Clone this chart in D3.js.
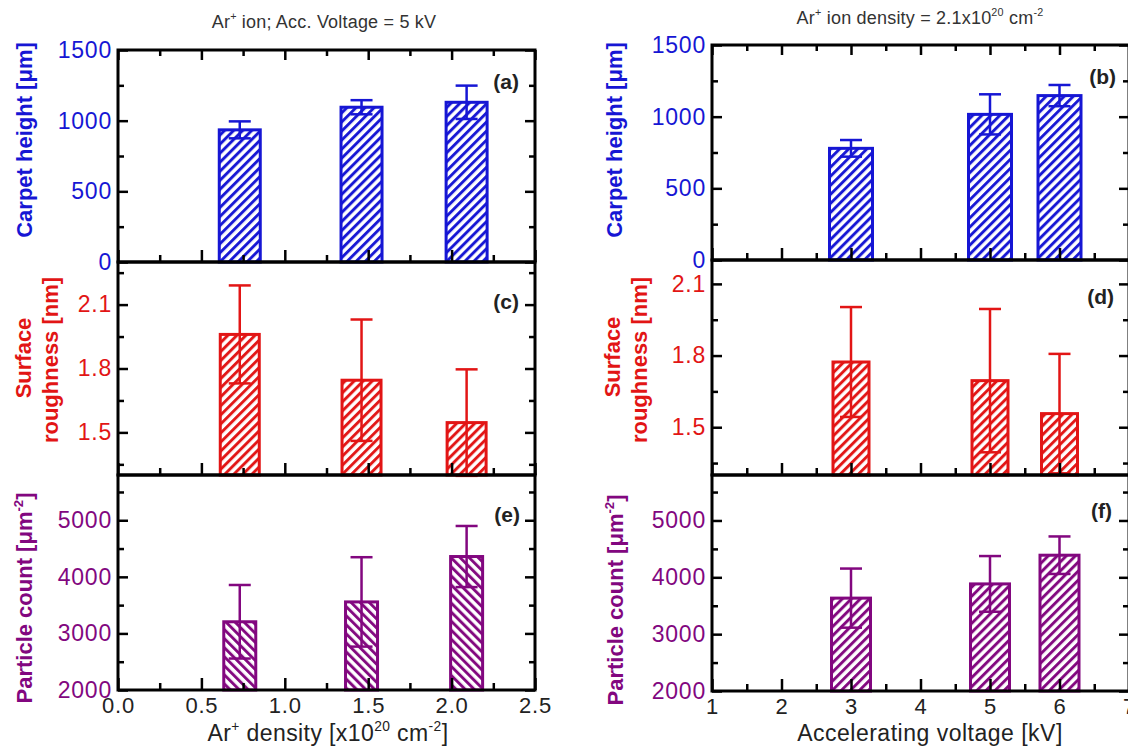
<!DOCTYPE html>
<html>
<head>
<meta charset="utf-8">
<title></title>
<script src="https://cdn.jsdelivr.net/npm/d3@7/dist/d3.min.js"></script>
<style>
body{margin:0;background:#fff;}
text{font-family:"Liberation Sans",Arial,sans-serif;}
</style>
</head>
<body>
<script>
// ---- data ----
var densityX = [0.73, 1.46, 2.09];      // x10^20 cm^-2
var voltageX = [3, 5, 6];               // kV

var heightDens = [935, 1095, 1130];   var heightDensErr = [60, 50, 118];     // (a)
var roughDens  = [1.96, 1.745, 1.546]; var roughDensErr  = [0.23, 0.285, 0.25]; // (c)
var countDens  = [3206, 3557, 4359];  var countDensErr  = [650, 790, 540];   // (e)

var heightVolt = [779, 1016, 1147];   var heightVoltErr = [58, 140, 74];     // (b)
var roughVolt  = [1.773, 1.695, 1.557]; var roughVoltErr = [0.23, 0.30, 0.25]; // (d)
var countVolt  = [3634, 3884, 4389];  var countVoltErr  = [520, 490, 330];   // (f)

// tick labels
var densTicks = [0, 0.5, 1.0, 1.5, 2.0, 2.5];
var densMinor = [0.25, 0.75, 1.25, 1.75, 2.25];
var voltTicks = [1, 2, 3, 4, 5, 6, 7];
var voltMinor = [1.5, 2.5, 3.5, 4.5, 5.5, 6.5];
var heightTicks = [0, 500, 1000, 1500];
var heightMinor = [250, 750, 1250];
var roughTicks = [1.5, 1.8, 2.1];
var roughMinor = [1.35, 1.65, 1.95, 2.25];
var countTicks = [2000, 3000, 4000, 5000];
var countMinor = [2500, 3500, 4500, 5500];

var blue = "#1616d4", red = "#e21515", purple = "#82077f";

var svg = d3.select("body").append("svg")
    .attr("width", 1128)
    .attr("height", 749);

var defs = svg.append("defs");
function hatch(id, color, angle) {
  var s = 6.4;
  var p = defs.append("pattern")
      .attr("id", id)
      .attr("patternUnits", "userSpaceOnUse")
      .attr("width", s).attr("height", s)
      .attr("patternTransform", "rotate(" + angle + ")");
  p.append("rect").attr("width", s).attr("height", s).attr("fill", "#fff");
  p.append("line").attr("x1", 1.5).attr("x2", 1.5).attr("y1", 0).attr("y2", s)
      .attr("stroke", color).attr("stroke-width", 2.9);
}
hatch("hBlue", blue, 45);
hatch("hRed", red, 45);
hatch("hPurple", purple, 45);
hatch("hPurpleBack", purple, -45);

var xDens = d3.scaleLinear().domain([0, 2.5]).range([118, 535]);
var xVolt = d3.scaleLinear().domain([1, 7]).range([712, 1129]);

function styleAxis(g, color, size) {
  g.select(".domain").remove();
  g.selectAll(".tick line").attr("stroke", "#000").attr("stroke-width", 2.5);
  g.attr("font-size", size || 23).attr("font-family", "'Liberation Sans', Arial, sans-serif")
   .attr("letter-spacing", "0.8px");
  g.selectAll(".tick text").attr("fill", color);
}

function panel(o) {
  var x = o.x, x0 = x.range()[0], x1 = x.range()[1];
  var y = d3.scaleLinear().domain(o.domain).range([o.y1, o.y0]);
  var g = svg.append("g");

  // bars
  g.selectAll("rect.bar").data(o.vals).enter().append("rect")
    .attr("x", function(d, i){ return x(o.xs[i]) - o.bw / 2; })
    .attr("y", function(d){ return y(d); })
    .attr("width", o.bw)
    .attr("height", function(d){ return o.y1 - y(d); })
    .attr("fill", "url(#" + o.pat + ")")
    .attr("stroke", o.color)
    .attr("stroke-width", 3);

  // error bars
  var eb = g.selectAll("g.err").data(o.vals).enter().append("g")
    .attr("stroke", o.color).attr("stroke-width", 2.5);
  eb.append("line")
    .attr("x1", function(d, i){ return x(o.xs[i]); })
    .attr("x2", function(d, i){ return x(o.xs[i]); })
    .attr("y1", function(d, i){ return y(d - o.err[i]); })
    .attr("y2", function(d, i){ return y(d + o.err[i]); });
  [1, -1].forEach(function(sgn){
    eb.append("line")
      .attr("x1", function(d, i){ return x(o.xs[i]) - 11; })
      .attr("x2", function(d, i){ return x(o.xs[i]) + 11; })
      .attr("y1", function(d, i){ return y(d + sgn * o.err[i]); })
      .attr("y2", function(d, i){ return y(d + sgn * o.err[i]); });
  });

  // y axes (left with labels, right ticks only)
  var inDom = function(v){ return v >= o.domain[0] && v <= o.domain[1]; };
  var yl = g.append("g").attr("transform", "translate(" + x0 + ",0)")
    .call(d3.axisLeft(y).tickValues(o.yTicks).tickSize(-10).tickPadding(6).tickFormat(o.yFmt));
  styleAxis(yl, o.color);
  yl.selectAll(".tick").filter(function(d){ return !inDom(d); }).select("line").remove();
  var ylm = g.append("g").attr("transform", "translate(" + x0 + ",0)")
    .call(d3.axisLeft(y).tickValues(o.yMinor.filter(inDom)).tickSize(-6).tickFormat(""));
  styleAxis(ylm, o.color);
  var yr = g.append("g").attr("transform", "translate(" + x1 + ",0)")
    .call(d3.axisRight(y).tickValues(o.yTicks.filter(inDom)).tickSize(-10).tickFormat(""));
  styleAxis(yr, o.color);
  var yrm = g.append("g").attr("transform", "translate(" + x1 + ",0)")
    .call(d3.axisRight(y).tickValues(o.yMinor.filter(inDom)).tickSize(-6).tickFormat(""));
  styleAxis(yrm, o.color);

  // x axes
  var xb = g.append("g").attr("transform", "translate(0," + o.y1 + ")")
    .call(d3.axisBottom(x).tickValues(o.xTicks).tickSize(-12).tickPadding(7)
      .tickFormat(o.bottom ? o.xFmt : ""));
  styleAxis(xb, "#222", 22);
  var xbm = g.append("g").attr("transform", "translate(0," + o.y1 + ")")
    .call(d3.axisBottom(x).tickValues(o.xMinor).tickSize(-7).tickFormat(""));
  styleAxis(xbm, "#222");
  if (o.top) {
    var xt = g.append("g").attr("transform", "translate(0," + o.y0 + ")")
      .call(d3.axisTop(x).tickValues(o.xTicks).tickSize(-10).tickFormat(""));
    styleAxis(xt, "#222");
    var xtm = g.append("g").attr("transform", "translate(0," + o.y0 + ")")
      .call(d3.axisTop(x).tickValues(o.xMinor).tickSize(-6).tickFormat(""));
    styleAxis(xtm, "#222");
  }

  // frame
  g.append("rect")
    .attr("x", x0).attr("y", o.y0)
    .attr("width", x1 - x0).attr("height", o.y1 - o.y0)
    .attr("fill", "none").attr("stroke", "#000").attr("stroke-width", 3);

  // panel label
  g.append("text")
    .attr("x", o.lx).attr("y", o.ly)
    .attr("text-anchor", "end").attr("dy", "0.35em")
    .attr("font-size", 21).attr("font-weight", "bold").attr("fill", "#222")
    .text(o.label);
}

var fmtDens = d3.format(".1f"), fmtInt = d3.format("d");

// left column: vs Ar+ density
panel({x: xDens, xs: densityX, vals: heightDens, err: heightDensErr, domain: [0, 1500],
  y0: 50, y1: 262, color: blue, pat: "hBlue", bw: 41, yTicks: heightTicks, yMinor: heightMinor,
  yFmt: fmtInt, xTicks: densTicks, xMinor: densMinor, top: true, label: "(a)", lx: 519, ly: 82});
panel({x: xDens, xs: densityX, vals: roughDens, err: roughDensErr, domain: [1.3, 2.3],
  y0: 262, y1: 475, color: red, pat: "hRed", bw: 39, yTicks: roughTicks, yMinor: roughMinor,
  yFmt: fmtDens, xTicks: densTicks, xMinor: densMinor, label: "(c)", lx: 519, ly: 302});
panel({x: xDens, xs: densityX, vals: countDens, err: countDensErr, domain: [2000, 5800],
  y0: 475, y1: 690, color: purple, pat: "hPurpleBack", bw: 32, yTicks: countTicks, yMinor: countMinor,
  yFmt: fmtInt, xTicks: densTicks, xMinor: densMinor, bottom: true, xFmt: fmtDens,
  label: "(e)", lx: 520, ly: 515});

// right column: vs accelerating voltage
panel({x: xVolt, xs: voltageX, vals: heightVolt, err: heightVoltErr, domain: [0, 1500],
  y0: 45, y1: 260, color: blue, pat: "hBlue", bw: 43, yTicks: heightTicks, yMinor: heightMinor,
  yFmt: fmtInt, xTicks: voltTicks, xMinor: voltMinor, top: true, label: "(b)", lx: 1116, ly: 77});
panel({x: xVolt, xs: voltageX, vals: roughVolt, err: roughVoltErr, domain: [1.3, 2.2],
  y0: 260, y1: 475, color: red, pat: "hRed", bw: 36, yTicks: roughTicks, yMinor: roughMinor,
  yFmt: fmtDens, xTicks: voltTicks, xMinor: voltMinor, label: "(d)", lx: 1114, ly: 297});
panel({x: xVolt, xs: voltageX, vals: countVolt, err: countVoltErr, domain: [2000, 5800],
  y0: 475, y1: 691, color: purple, pat: "hPurple", bw: 39, yTicks: countTicks, yMinor: countMinor,
  yFmt: fmtInt, xTicks: voltTicks, xMinor: voltMinor, bottom: true, xFmt: fmtInt,
  label: "(f)", lx: 1112, ly: 511});

// text with superscripts
function rich(x, y, parts, size, opt) {
  opt = opt || {};
  var t = svg.append("text")
    .attr("font-size", size)
    .attr("fill", opt.fill || "#222")
    .attr("font-weight", opt.bold ? "bold" : "normal")
    .attr("letter-spacing", opt.ls || "0px")
    .attr("text-anchor", "middle");
  if (opt.rotate) t.attr("transform", "translate(" + x + "," + y + ") rotate(-90)");
  else t.attr("x", x).attr("y", y);
  var up = false;
  parts.forEach(function(p){
    var sup = typeof p !== "string";
    var s = t.append("tspan").text(sup ? p[0] : p);
    if (sup) {
      s.attr("font-size", size * 0.6).attr("dy", up ? 0 : -size * 0.42);
      up = true;
    } else {
      if (up) s.attr("dy", size * 0.42);
      up = false;
    }
  });
  return t;
}

// titles
rich(324, 28, ["Ar", ["+"], " ion; Acc. Voltage = 5 kV"], 18, {fill: "#333", ls: "0.2px"});
rich(920, 24, ["Ar", ["+"], " ion density = 2.1x10", ["20"], " cm", ["-2"]], 18, {fill: "#333", ls: "0.2px"});
rich(328, 741, ["Ar", ["+"], " density [x10", ["20"], " cm", ["-2"], "]"], 23, {ls: "0.4px"});
rich(930, 741, ["Accelerating voltage [kV]"], 23, {ls: "0.5px"});

// y axis titles
rich(32, 140, ["Carpet height [\u03bcm]"], 22, {rotate: true, bold: true, fill: blue});
rich(31, 358, ["Surface"], 22, {rotate: true, bold: true, fill: red});
rich(58, 360, ["roughness [nm]"], 22, {rotate: true, bold: true, fill: red});
rich(32, 598, ["Particle count [\u03bcm", ["-2"], "]"], 22, {rotate: true, bold: true, fill: purple});

rich(622, 140, ["Carpet height [\u03bcm]"], 22, {rotate: true, bold: true, fill: blue});
rich(620, 357, ["Surface"], 22, {rotate: true, bold: true, fill: red});
rich(647, 360, ["roughness [nm]"], 22, {rotate: true, bold: true, fill: red});
rich(623, 600, ["Particle count [\u03bcm", ["-2"], "]"], 22, {rotate: true, bold: true, fill: purple});
</script>
</body>
</html>
